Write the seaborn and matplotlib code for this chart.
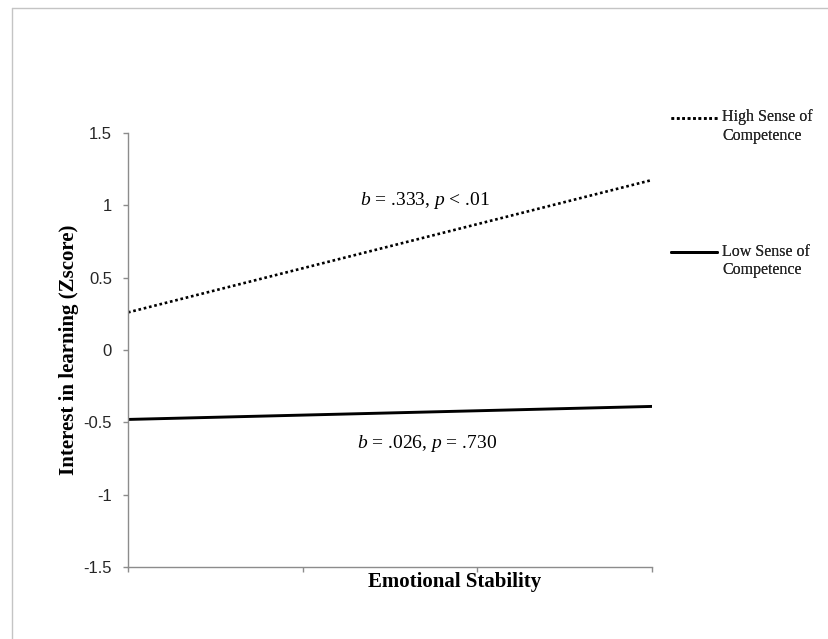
import numpy as np
import pandas as pd
import matplotlib
matplotlib.use("Agg")
import matplotlib.pyplot as plt
from matplotlib.lines import Line2D
import seaborn as sns

# ---- data ----
stability = [0.0, 1.0]                      # -1 SD, +1 SD of Emotional Stability
high_comp = [0.26, 1.175]
low_comp = [-0.48, -0.39]
groups = ["High Sense of\nCompetence", "Low Sense of\nCompetence"]
y_ticks = [-1.5, -1, -0.5, 0, 0.5, 1, 1.5]
y_tick_labels = ["-1.5", "-1", "-0.5", "0", "0.5", "1", "1.5"]
x_ticks = [0, 1 / 3, 2 / 3, 1]
ann_high = "$b$ = .333, $p$ < .01"
ann_low = "$b$ = .026, $p$ = .730"

df = pd.DataFrame({
    "x": stability * 2,
    "y": high_comp + low_comp,
    "group": [groups[0]] * 2 + [groups[1]] * 2,
})

sns.set_theme(style="white")
plt.rcParams["font.family"] = ["Liberation Serif", "DejaVu Serif"]
plt.rcParams["mathtext.fontset"] = "custom"
plt.rcParams["mathtext.rm"] = "Liberation Serif"
plt.rcParams["mathtext.it"] = "Liberation Serif:italic"

W, H = 829, 639
fig = plt.figure(figsize=(W / 100, H / 100), dpi=100)
fig.patch.set_facecolor("white")
ax = fig.add_axes([128 / W, 1 - 567 / H, (652 - 128) / W, (567 - 133) / H])

sub_h = df[df.group == groups[0]]
sub_l = df[df.group == groups[1]]
sns.lineplot(data=sub_h, x="x", y="y", ax=ax, color="black", lw=1.9,
             linestyle=(0, (1, 1.05)), label=groups[0], legend=False)
sns.lineplot(data=sub_l, x="x", y="y", ax=ax, color="black", lw=2.1,
             label=groups[1], legend=False)
for ln in ax.lines:
    ln.set_dash_capstyle("butt")

ax.set_xlim(0, 1)
ax.set_ylim(-1.5, 1.5)
ax.set_yticks(y_ticks)
ax.set_yticklabels(y_tick_labels, fontfamily="Liberation Sans", fontsize=12,
                   color="#262626")
ax.set_xticks(x_ticks)
ax.set_xticklabels([])
ax.tick_params(axis="both", direction="out", length=3.6, width=1,
               color="#8c8c8c", left=True, bottom=True)
ax.tick_params(axis="y", pad=8)
for s in ["top", "right"]:
    ax.spines[s].set_visible(False)
for s in ["left", "bottom"]:
    ax.spines[s].set_color("#8c8c8c")
    ax.spines[s].set_linewidth(1)
ax.grid(False)

ax.set_xlabel("Emotional Stability", fontsize=15, fontweight="bold",
              color="black")
ax.xaxis.set_label_coords((455 - 128) / 524, -15 / 434)
ax.xaxis.label.set_va("center")
ax.set_ylabel("Interest in learning (Zscore)", fontsize=15, fontweight="bold",
              color="black")
ax.yaxis.set_label_coords((69 - 128) / 524, 0.5)
ax.yaxis.label.set_va("center")

ax.text(0.567, 1.0, ann_high, fontsize=14, ha="center", va="baseline",
        color="black")
ax.text(0.570, -0.68, ann_low, fontsize=14, ha="center", va="baseline",
        color="black")

# legends (one per entry so they sit apart like the original)
handles = ax.lines
for h, lab, yc in [(handles[0], groups[0], 126.5), (handles[1], groups[1], 261)]:
    leg = fig.legend([h], [lab], loc="center left",
                     bbox_to_anchor=(671 / W, 1 - yc / H),
                     bbox_transform=fig.transFigure, frameon=False,
                     borderpad=0, borderaxespad=0, handlelength=2.9,
                     handletextpad=0.3, prop={"family": "Liberation Serif",
                                              "size": 11.5})
    for lh in leg.legend_handles:
        lh.set_ydata(np.asarray(lh.get_ydata()) + 6.5)
        lh.set_dash_capstyle("butt")
    fig.add_artist(leg)

# outer frame (partially visible, as in the original)
fx, fy = 12 / W, 1 - 8 / H
fig.add_artist(Line2D([fx, fx], [0, fy], transform=fig.transFigure,
                      color="#c4c4c4", lw=1))
fig.add_artist(Line2D([fx, 1], [fy, fy], transform=fig.transFigure,
                      color="#c4c4c4", lw=1))

fig.savefig("out.png", dpi=100, facecolor="white")
